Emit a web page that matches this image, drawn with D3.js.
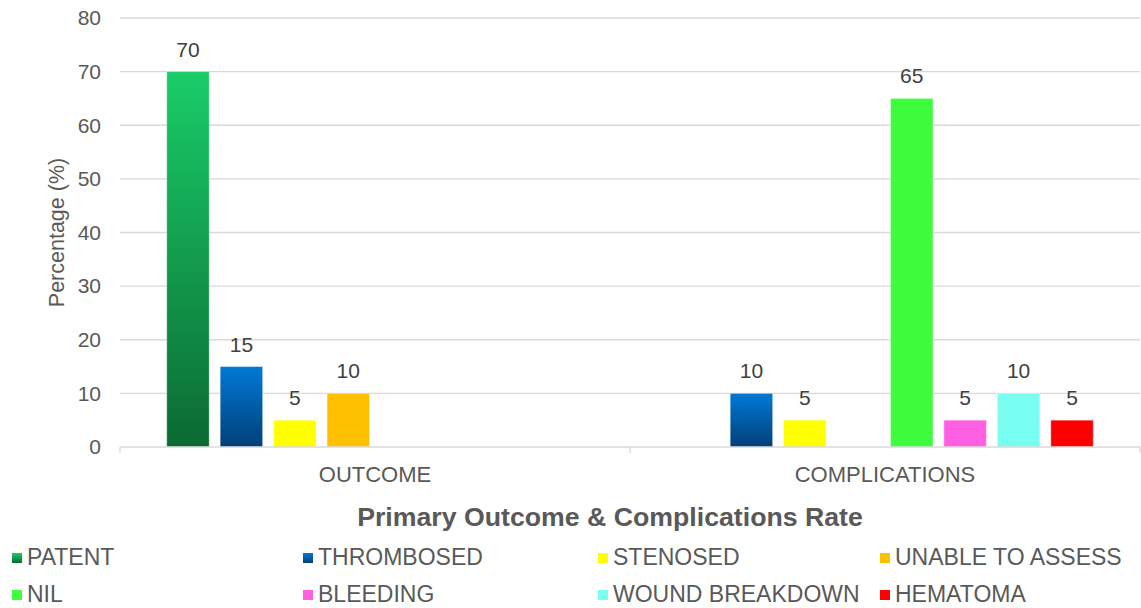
<!DOCTYPE html>
<meta charset="utf-8">
<script src="https://d3js.org/d3.v7.min.js"></script>
<style>
    body { margin: 0; background: #fff; }
    text { font-family: "Liberation Sans", Arial, sans-serif; }
</style>
<div id="chart"></div>
<script>
    // data
    const groups = ["OUTCOME", "COMPLICATIONS"];
    const series = ["PATENT", "THROMBOSED", "STENOSED", "UNABLE TO ASSESS", "NIL", "BLEEDING", "WOUND BREAKDOWN", "HEMATOMA"];
    const outcomeValues = [70, 15, 5, 10, 0, 0, 0, 0];
    const complicationValues = [0, 10, 5, 0, 65, 5, 10, 5];
    const yTicks = [0, 10, 20, 30, 40, 50, 60, 70, 80];
    const colors = ["url(#gPatent)", "url(#gThromb)", "#ffff00", "#ffc000", "#3dfd3d", "#ff5fe3", "#78fff1", "#ff0000"];

    const valuesByGroup = { "OUTCOME": outcomeValues, "COMPLICATIONS": complicationValues };

    const W = 1141, H = 608;
    const margin = { top: 18, left: 120, right: 1, bottom: 161 };
    const plotW = W - margin.left - margin.right;
    const plotH = H - margin.top - margin.bottom;

    const svg = d3.select("#chart").append("svg")
        .attr("width", W).attr("height", H);

    // gradients
    const defs = svg.append("defs");
    function grad(id, top, bottom) {
        const g = defs.append("linearGradient").attr("id", id)
            .attr("x1", 0).attr("y1", 0).attr("x2", 0).attr("y2", 1);
        g.append("stop").attr("offset", "0%").attr("stop-color", top);
        g.append("stop").attr("offset", "100%").attr("stop-color", bottom);
    }
    grad("gPatent", "#19cd68", "#0b6a33");
    grad("gThromb", "#0079d6", "#033f78");

    const g = svg.append("g").attr("transform", `translate(${margin.left},${margin.top})`);

    const x0 = d3.scaleBand().domain(groups).range([0, plotW]).padding(0);
    const x1 = d3.scaleBand().domain(series).range([0, x0.bandwidth()])
        .paddingInner(0.206).paddingOuter(0.875);
    const y = d3.scaleLinear().domain([0, 80]).range([plotH, 0]);

    // gridlines
    g.append("g").selectAll("line").data(yTicks.slice(1)).join("line")
        .attr("x1", 0).attr("x2", plotW)
        .attr("y1", d => y(d)).attr("y2", d => y(d))
        .attr("stroke", "#d9d9d9").attr("stroke-width", 1.3);

    // y tick labels
    g.append("g").selectAll("text").data(yTicks).join("text")
        .attr("x", -19).attr("y", d => y(d))
        .attr("dy", "0.35em")
        .attr("text-anchor", "end")
        .attr("font-size", 21)
        .attr("fill", "#595959")
        .text(d => d);

    // bars
    const grp = g.selectAll(".grp").data(groups).join("g")
        .attr("transform", d => `translate(${x0(d)},0)`);

    const rows = d => series.map((s, i) => ({ s: s, i: i, v: valuesByGroup[d][i] })).filter(e => e.v > 0);

    grp.selectAll("rect")
        .data(rows)
        .join("rect")
        .attr("x", d => x1(d.s))
        .attr("width", x1.bandwidth())
        .attr("y", d => y(d.v))
        .attr("height", d => plotH - y(d.v))
        .attr("fill", d => colors[d.i])
        .attr("stroke", "#ffffff").attr("stroke-opacity", 0.35).attr("stroke-width", 1);

    grp.selectAll("text.val")
        .data(rows)
        .join("text").attr("class", "val")
        .attr("x", d => x1(d.s) + x1.bandwidth() / 2)
        .attr("y", d => y(d.v) - 15)
        .attr("text-anchor", "middle")
        .attr("font-size", 21)
        .attr("fill", "#404040")
        .text(d => d.v);

    // baseline axis
    g.append("line").attr("x1", 0).attr("x2", plotW)
        .attr("y1", plotH).attr("y2", plotH)
        .attr("stroke", "#d9d9d9").attr("stroke-width", 1.3);
    const tickXs = groups.map(d => x0(d)).concat([plotW]);
    g.append("g").selectAll("line").data(tickXs).join("line")
        .attr("x1", d => d).attr("x2", d => d)
        .attr("y1", plotH).attr("y2", plotH + 6)
        .attr("stroke", "#d9d9d9").attr("stroke-width", 1.3);

    // category labels
    g.append("g").selectAll("text").data(groups).join("text")
        .attr("x", d => x0(d) + x0.bandwidth() / 2)
        .attr("y", plotH + 27)
        .attr("dy", "0.35em")
        .attr("text-anchor", "middle")
        .attr("font-size", 22)
        .attr("fill", "#595959")
        .text(d => d);

    // axis titles
    svg.append("text")
        .attr("transform", `translate(56,${margin.top + plotH / 2}) rotate(-90)`)
        .attr("text-anchor", "middle")
        .attr("dy", "0.35em")
        .attr("font-size", 21.5)
        .attr("fill", "#595959")
        .text("Percentage (%)");

    svg.append("text")
        .attr("x", 610).attr("y", 517)
        .attr("dy", "0.35em")
        .attr("text-anchor", "middle")
        .attr("font-size", 26.7)
        .attr("font-weight", "bold")
        .attr("fill", "#595959")
        .text("Primary Outcome & Complications Rate");

    // legend
    const legX = [12, 303, 598, 880];
    const legY = [557, 594];
    const leg = svg.append("g").selectAll("g").data(series).join("g")
        .attr("transform", (d, i) => `translate(${legX[i % 4]},${legY[Math.floor(i / 4)]})`);
    leg.append("rect").attr("x", 0).attr("y", -4).attr("width", 10).attr("height", 10)
        .attr("fill", (d, i) => colors[i]);
    leg.append("text").attr("x", 15).attr("y", 0).attr("dy", "0.35em")
        .attr("font-size", 23).attr("fill", "#595959")
        .text(d => d);
</script>
